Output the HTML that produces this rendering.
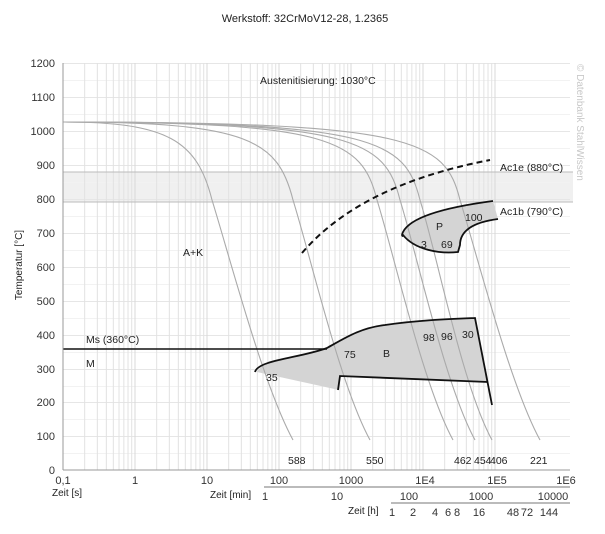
<!DOCTYPE html>
<html><head><meta charset="utf-8"><style>
body{margin:0;background:#fff;}
svg{display:block;font-family:"Liberation Sans",sans-serif;}
</style></head><body>
<svg width="605" height="534" viewBox="0 0 605 534" xmlns="http://www.w3.org/2000/svg">
<rect width="605" height="534" fill="#fff"/>
<text x="305" y="22" font-size="11" text-anchor="middle" fill="#222">Werkstoff: 32CrMoV12-28, 1.2365</text>
<rect x="63" y="172" width="510" height="30" fill="#f0f0f0"/>
<g id="grid" stroke="#e6e6e6" stroke-width="1">
<line x1="63" x2="570" y1="63.5" y2="63.5"/><line x1="63" x2="570" y1="97.5" y2="97.5"/><line x1="63" x2="570" y1="131.5" y2="131.5"/><line x1="63" x2="570" y1="165.5" y2="165.5"/><line x1="63" x2="570" y1="199.5" y2="199.5"/><line x1="63" x2="570" y1="233.5" y2="233.5"/><line x1="63" x2="570" y1="267.5" y2="267.5"/><line x1="63" x2="570" y1="301.5" y2="301.5"/><line x1="63" x2="570" y1="335.5" y2="335.5"/><line x1="63" x2="570" y1="369.5" y2="369.5"/><line x1="63" x2="570" y1="402.5" y2="402.5"/><line x1="63" x2="570" y1="436.5" y2="436.5"/>
<line x1="63" x2="570" y1="80.5" y2="80.5" stroke="#f2f2f2"/><line x1="63" x2="570" y1="114.5" y2="114.5" stroke="#f2f2f2"/><line x1="63" x2="570" y1="148.5" y2="148.5" stroke="#f2f2f2"/><line x1="63" x2="570" y1="182.5" y2="182.5" stroke="#f2f2f2"/><line x1="63" x2="570" y1="216.5" y2="216.5" stroke="#f2f2f2"/><line x1="63" x2="570" y1="250.5" y2="250.5" stroke="#f2f2f2"/><line x1="63" x2="570" y1="284.5" y2="284.5" stroke="#f2f2f2"/><line x1="63" x2="570" y1="318.5" y2="318.5" stroke="#f2f2f2"/><line x1="63" x2="570" y1="352.5" y2="352.5" stroke="#f2f2f2"/><line x1="63" x2="570" y1="386.5" y2="386.5" stroke="#f2f2f2"/><line x1="63" x2="570" y1="419.5" y2="419.5" stroke="#f2f2f2"/><line x1="63" x2="570" y1="453.5" y2="453.5" stroke="#f2f2f2"/>
</g>
<g stroke="#e2e2e2" stroke-width="1" id="vg"></g>
<line x1="63" x2="573" y1="172" y2="172" stroke="#bbb"/>
<line x1="63" x2="573" y1="202" y2="202" stroke="#bbb"/>
<path d="M257,372 C262,360 300,358 327,348 C345,338 360,328 385,325 C420,320 450,319 475,318 L488,382 L340,376 L339,390 Z" fill="#d4d4d4"/>
<path d="M403,232 C410,218 440,208 493,201 L498,219 C475,222 460,230 460,245 L458,252 C440,254 415,250 403,235 Z" fill="#d4d4d4"/>
<g fill="none" stroke="#aaa" stroke-width="1.1" id="cc"></g>
<path d="M255,372 C258,360 300,358 327,348 C345,338 360,328 385,325 C420,320 450,319 475,318 L492,405" fill="none" stroke="#111" stroke-width="1.8"/>
<path d="M488,382 L340,376 L338,390" fill="none" stroke="#111" stroke-width="1.8"/>
<path d="M493,201 C440,208 410,218 403,232 C401,236 403,237 403,235 C415,250 440,254 458,252 L460,245 C460,230 475,222 498,219" fill="none" stroke="#111" stroke-width="1.8"/>
<line x1="63" y1="349" x2="327" y2="349" stroke="#111" stroke-width="1.6"/>
<path d="M302,253 Q360,185 490,160" fill="none" stroke="#111" stroke-width="2" stroke-dasharray="6,4"/>
<line x1="63" y1="63" x2="63" y2="470" stroke="#999"/>
<line x1="63" y1="470" x2="570" y2="470" stroke="#999"/>
<g font-size="11" fill="#333" text-anchor="end">
<text x="55" y="67">1200</text><text x="55" y="101">1100</text><text x="55" y="135">1000</text><text x="55" y="169">900</text><text x="55" y="203">800</text><text x="55" y="237">700</text><text x="55" y="271">600</text><text x="55" y="305">500</text><text x="55" y="339">400</text><text x="55" y="373">300</text><text x="55" y="406">200</text><text x="55" y="440">100</text><text x="55" y="474">0</text>
</g>
<text transform="translate(22,265) rotate(-90)" font-size="10" text-anchor="middle" fill="#222">Temperatur [°C]</text>
<g font-size="11" fill="#333" text-anchor="middle">
<text x="63" y="484">0,1</text><text x="135" y="484">1</text><text x="207" y="484">10</text><text x="279" y="484">100</text><text x="351" y="484">1000</text><text x="425" y="484">1E4</text><text x="497" y="484">1E5</text><text x="566" y="484">1E6</text>
</g>
<text x="52" y="496" font-size="10" fill="#222">Zeit [s]</text>
<text x="210" y="498" font-size="10" fill="#222">Zeit [min]</text>
<line x1="264" y1="487" x2="570" y2="487" stroke="#777"/>
<g font-size="11" fill="#333" text-anchor="middle">
<text x="265" y="500">1</text><text x="337" y="500">10</text><text x="409" y="500">100</text><text x="481" y="500">1000</text><text x="553" y="500">10000</text>
</g>
<text x="348" y="514" font-size="10" fill="#222">Zeit [h]</text>
<line x1="391" y1="503" x2="570" y2="503" stroke="#777"/>
<g font-size="11" fill="#333" text-anchor="middle">
<text x="392" y="516">1</text><text x="413" y="516">2</text><text x="435" y="516">4</text><text x="448" y="516">6</text><text x="457" y="516">8</text><text x="479" y="516">16</text><text x="513" y="516">48</text><text x="527" y="516">72</text><text x="549" y="516">144</text>
</g>
<g font-size="10.5" fill="#222">
<text x="260" y="84">Austenitisierung: 1030°C</text>
<text x="500" y="171">Ac1e (880°C)</text>
<text x="500" y="215">Ac1b (790°C)</text>
<text x="183" y="256">A+K</text>
<text x="86" y="343">Ms (360°C)</text>
<text x="86" y="367">M</text>
<text x="266" y="381">35</text><text x="344" y="358">75</text><text x="383" y="357">B</text>
<text x="423" y="341">98</text><text x="441" y="340">96</text><text x="462" y="338">30</text>
<text x="436" y="230">P</text><text x="465" y="221">100</text><text x="421" y="248">3</text><text x="441" y="248">69</text>
<text x="288" y="464">588</text><text x="366" y="464">550</text><text x="454" y="464">462</text><text x="474" y="464">454</text><text x="490" y="464">406</text><text x="530" y="464">221</text>
</g>
<text transform="translate(577,64) rotate(90)" font-size="10" fill="#c8c8c8">© Datenbank StahlWissen</text>
<script>
var ns="http://www.w3.org/2000/svg";
var vg=document.getElementById("vg");
for(var d=0;d<7;d++){for(var m=1;m<10;m++){if(d==6&&m>1)break;var x=63+72*(d+Math.log10(m));
var l=document.createElementNS(ns,"line");l.setAttribute("x1",x);l.setAttribute("x2",x);l.setAttribute("y1",63);l.setAttribute("y2",470);
if(m==1)l.setAttribute("stroke","#d8d8d8");vg.appendChild(l);}}
var cc=document.getElementById("cc");
var cs=[[212,293],[293,370],[377,453],[400,475],[420,492],[460,540]];
cs.forEach(function(c){var k=c[0],e=c[1];var p=document.createElementNS(ns,"path");
p.setAttribute("d","M63,122 C"+(k-45)+",122 "+(k-15)+",140 "+k+",200 C"+(k+18)+",258 "+(e-30)+",385 "+e+",440");cc.appendChild(p);});
</script>
</svg>
</body></html>
